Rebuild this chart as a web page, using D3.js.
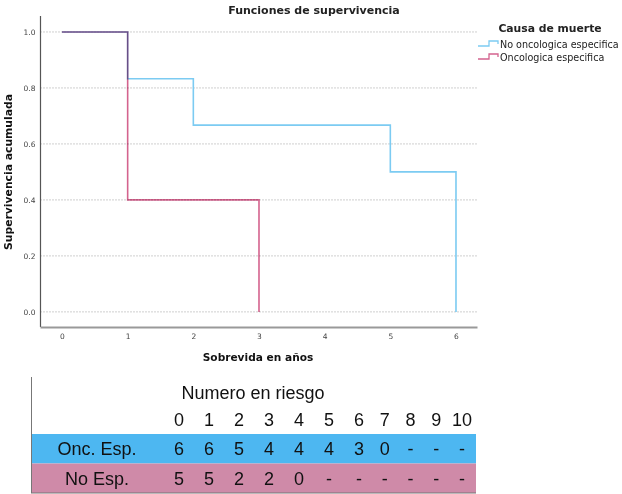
<!DOCTYPE html>
<html>
<head>
<meta charset="utf-8">
<script src="https://cdn.jsdelivr.net/npm/d3@7"></script>
<style>
  body { margin: 0; background: #fff; }
  svg { display: block; }
  .chart text { font-family: "DejaVu Sans", sans-serif; }
  .tbl text { font-family: "Liberation Sans", Arial, sans-serif; }
</style>
</head>
<body>
<svg id="canvas" width="622" height="494"></svg>
<script>
// survival curves
const seriesNames = ['No oncologica especifica', 'Oncologica especifica'];
const noOncTimes = [0, 1, 2, 5, 6];
const noOncSurv = [1, 0.833, 0.667, 0.5, 0];
const oncTimes = [0, 1, 3];
const oncSurv = [1, 0.4, 0];
const seriesColors = ['#7ccbf2', '#d4638e'];

const xTicks = [0, 1, 2, 3, 4, 5, 6];
const yTicks = [0, 0.2, 0.4, 0.6, 0.8, 1.0];

// number at risk table
const riskCols = [0, 1, 2, 3, 4, 5, 6, 7, 8, 9, 10];
const riskLabels = ['Onc. Esp.', 'No Esp.'];
const riskOnc = ['6', '6', '5', '4', '4', '4', '3', '0', '-', '-', '-'];
const riskNo = ['5', '5', '2', '2', '0', '-', '-', '-', '-', '-', '-'];
const rowColors = ['#4db7f1', '#cf8aa8'];

let canvas = d3.select('#canvas');
let chart = canvas.append('g').attr('class', 'chart');

let x = d3.scaleLinear().domain([-0.335, 6.32]).range([40, 477]);
let y = d3.scaleLinear().domain([-0.054, 1.057]).range([327, 16]);

// grid lines
chart.selectAll('.grid')
    .data(yTicks)
    .enter()
    .append('line')
    .attr('x1', x.range()[0])
    .attr('x2', x.range()[1])
    .attr('y1', d => y(d))
    .attr('y2', d => y(d))
    .attr('stroke', '#cfcfcf')
    .attr('stroke-width', 1)
    .attr('stroke-dasharray', '2,1');

// axes
let yAxis = chart.append('g')
    .attr('transform', 'translate(' + (x.range()[0] + 0.5) + ',0)')
    .call(d3.axisLeft(y).tickValues(yTicks).tickFormat(d3.format('.1f')).tickSize(0).tickPadding(5));
yAxis.select('.domain').attr('stroke', '#555').attr('stroke-width', 1.2).attr('d', 'M0,' + y.range()[1] + 'V' + y.range()[0]);
yAxis.selectAll('text').attr('font-size', 7.5).attr('fill', '#444');

let xAxis = chart.append('g')
    .attr('transform', 'translate(0,' + y.range()[0] + ')')
    .call(d3.axisBottom(x).tickValues(xTicks).tickFormat(d3.format('d')).tickSize(0).tickPadding(7));
xAxis.select('.domain').attr('stroke', '#999').attr('stroke-width', 2);
xAxis.selectAll('text').attr('font-size', 7.5).attr('fill', '#444');

// curves
let line = d3.line()
    .x(d => x(d[0]))
    .y(d => y(d[1]))
    .curve(d3.curveStepAfter);

let curves = [
    d3.zip(noOncTimes, noOncSurv),
    d3.zip(oncTimes, oncSurv)
];

chart.selectAll('.curve')
    .data(curves)
    .enter()
    .append('path')
    .attr('class', 'curve')
    .attr('d', line)
    .attr('fill', 'none')
    .attr('stroke', (d, i) => seriesColors[i])
    .attr('stroke-width', 1.6)
    .style('mix-blend-mode', (d, i) => i === 1 ? 'multiply' : 'normal');

// titles
chart.append('text')
    .text('Funciones de supervivencia')
    .attr('x', 314)
    .attr('y', 14)
    .attr('text-anchor', 'middle')
    .attr('font-size', 11)
    .attr('font-weight', 'bold')
    .attr('fill', '#222');

chart.append('text')
    .text('Sobrevida en años')
    .attr('x', 258)
    .attr('y', 361)
    .attr('text-anchor', 'middle')
    .attr('font-size', 10.6)
    .attr('font-weight', 'bold')
    .attr('fill', '#111');

chart.append('text')
    .text('Supervivencia acumulada')
    .attr('transform', 'translate(12,172) rotate(-90)')
    .attr('text-anchor', 'middle')
    .attr('font-size', 10.8)
    .attr('font-weight', 'bold')
    .attr('fill', '#111');

// legend
let legend = chart.append('g').attr('transform', 'translate(478,0)');
legend.append('text')
    .text('Causa de muerte')
    .attr('x', 72)
    .attr('y', 32)
    .attr('text-anchor', 'middle')
    .attr('font-size', 10.8)
    .attr('font-weight', 'bold')
    .attr('fill', '#222');

let items = legend.selectAll('.item')
    .data(seriesNames)
    .enter()
    .append('g')
    .attr('transform', (d, i) => 'translate(0,' + (44 + i * 13) + ')');

items.append('path')
    .attr('d', 'M0,2H11V-3H20V0')
    .attr('fill', 'none')
    .attr('stroke', (d, i) => seriesColors[i])
    .attr('stroke-width', 1.3);

items.append('text')
    .text(d => d)
    .attr('x', 22)
    .attr('y', 3.5)
    .attr('font-size', 9.6)
    .attr('fill', '#222');

// table
let tbl = canvas.append('g').attr('class', 'tbl');

let col = d3.scaleLinear().domain([0, 6, 10]).range([179, 359, 462]);
let row = d3.scaleBand().domain(riskLabels).range([434, 493]);

tbl.selectAll('.rowbg')
    .data(riskLabels)
    .enter()
    .append('rect')
    .attr('x', 31)
    .attr('y', d => row(d))
    .attr('width', 476 - 31)
    .attr('height', row.bandwidth())
    .attr('fill', (d, i) => rowColors[i]);

tbl.append('line')
    .attr('x1', 31.5).attr('x2', 31.5)
    .attr('y1', 377).attr('y2', 493)
    .attr('stroke', '#777').attr('stroke-width', 1);
tbl.append('line')
    .attr('x1', 31).attr('x2', 476)
    .attr('y1', 493).attr('y2', 493)
    .attr('stroke', '#777').attr('stroke-width', 1);

tbl.append('text')
    .text('Numero en riesgo')
    .attr('x', 253)
    .attr('y', 399)
    .attr('text-anchor', 'middle')
    .attr('font-size', 18)
    .attr('fill', '#111');

tbl.selectAll('.colhead')
    .data(riskCols)
    .enter()
    .append('text')
    .text(d => d)
    .attr('x', d => col(d))
    .attr('y', 426)
    .attr('text-anchor', 'middle')
    .attr('font-size', 18)
    .attr('fill', '#111');

let rowsData = [riskOnc, riskNo];
let rows = tbl.selectAll('.row')
    .data(rowsData)
    .enter()
    .append('g')
    .attr('transform', (d, i) => 'translate(0,' + (row(riskLabels[i]) + row.bandwidth() / 2 + 6.5) + ')');

rows.append('text')
    .text((d, i) => riskLabels[i])
    .attr('x', 97)
    .attr('text-anchor', 'middle')
    .attr('font-size', 18)
    .attr('fill', '#111');

rows.selectAll('.cell')
    .data(d => d)
    .enter()
    .append('text')
    .text(d => d)
    .attr('x', (d, i) => col(riskCols[i]))
    .attr('text-anchor', 'middle')
    .attr('font-size', 18)
    .attr('fill', '#111');
</script>
</body>
</html>
